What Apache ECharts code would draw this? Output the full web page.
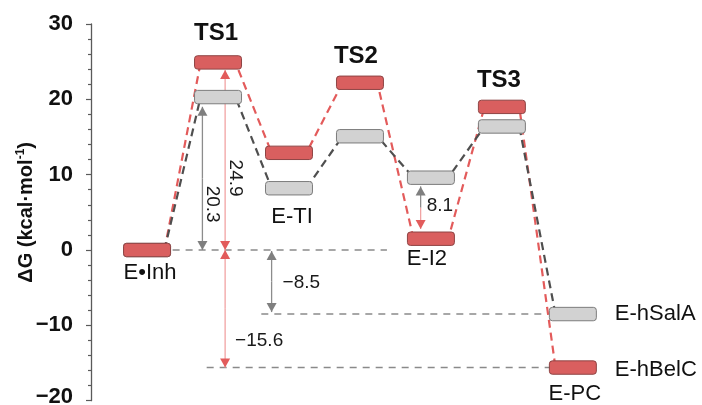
<!DOCTYPE html>
<html>
<head>
<meta charset="utf-8">
<script src="https://cdn.jsdelivr.net/npm/echarts/dist/echarts.min.js"></script>
<style>
  html, body { margin: 0; padding: 0; background: #fff; }
  #chart { width: 702px; height: 405px; }
</style>
</head>
<body>
<div id="chart"></div>
<script>
// Free-energy profile of the two enzyme pathways (kcal/mol, relative to E•Inh)
const stages = ['E•Inh', 'TS1', 'E-TI', 'TS2', 'E-I2', 'TS3', 'E-PC'];
const hBelC = [0, 24.9, 12.9, 22.2, 1.5, 19.0, -15.6];   // red pathway
const hSalA = [0, 20.3, 8.2, 15.1, 9.6, 16.4, -8.5];     // grey pathway
const yTicks = [-20, -10, 0, 10, 20, 30];
const endLabels = ['E-hSalA', 'E-hBelC'];

// ---- drawing constants -------------------------------------------------
const FONT = '"Liberation Sans", Arial, Helvetica, sans-serif';
const BAR_W = 0.662;      // bar width in stage units
const BAR_H = 13.4;       // bar height in px
const EDGE = 0.245;       // where a connector leaves / enters a bar
const RED = { fill: '#d95f5f', stroke: '#8e4444', path: '#e35b5b', arrow: '#f1a3a3', head: '#e25c5c' };
const GREY = { fill: '#d2d2d2', stroke: '#7c7c7c', path: '#4f4f4f', arrow: '#8c8c8c', head: '#7f7f7f' };
const fmt = v => (v < 0 ? '\u2212' + Math.abs(v).toFixed(1) : v.toFixed(1));
const diff = (a, b) => Math.round((a - b) * 10) / 10;

// connector polyline through all bars of one pathway
function pathPoints(vals) {
  const pts = [];
  vals.forEach((v, i) => {
    if (i > 0) pts.push([i - EDGE, v]);
    if (i < vals.length - 1) pts.push([i + EDGE, v]);
  });
  return pts;
}

// dashed reference levels: [y, xStart, xEnd]
const refLevels = [
  [hBelC[0], 0.36, 3.38],
  [hSalA[6], 1.61, 5.64],
  [hBelC[6], 0.84, 5.70]
];

// double-headed arrows: x, from, to, gaps (px), colours, label
const half = BAR_H / 2;
const arrows = [
  { x: 0.78, from: 0, to: hSalA[1], g0: 0, g1: half + 3, c0: GREY, c1: GREY,
    text: fmt(diff(hSalA[1], hSalA[0])), at: 0.32, dx: 10, rot: true },
  { x: 1.10, from: 0, to: hBelC[1], g0: 0, g1: half + 1, c0: RED, c1: RED,
    text: fmt(diff(hBelC[1], hBelC[0])), at: 0.40, dx: 10, rot: true },
  { x: 1.10, from: 0, to: hBelC[6], g0: 0, g1: 0, c0: RED, c1: RED,
    text: fmt(diff(hBelC[6], hBelC[0])), at: 0.77, dx: 10, rot: false },
  { x: 1.755, from: 0, to: hSalA[6], g0: 1, g1: 2, c0: GREY, c1: GREY,
    text: fmt(diff(hSalA[6], hSalA[0])), at: 0.52, dx: 11, rot: false },
  { x: 3.855, from: hSalA[4], to: hBelC[4], g0: half + 2, g1: half + 3, c0: GREY, c1: RED,
    text: fmt(diff(hSalA[4], hBelC[4])), at: 0.45, dx: 6, rot: false }
];

// stage names and transition-state headers: text, stage, anchor value, dx, dy, align, style
const nodeLabels = [
  { text: stages[0], i: 0, v: hBelC[0], dx: 3, dy: 23, align: 'center' },
  { text: stages[2], i: 2, v: hSalA[2], dx: 3, dy: 29, align: 'center' },
  { text: stages[4], i: 4, v: hBelC[4], dx: -4, dy: 20, align: 'center' },
  { text: stages[6], i: 6, v: hBelC[6], dx: 2, dy: 26.5, align: 'center' },
  { text: endLabels[0], i: 6, v: hSalA[6], dx: 42, dy: 0, align: 'left' },
  { text: endLabels[1], i: 6, v: hBelC[6], dx: 42, dy: 2, align: 'left' },
  { text: stages[1], i: 1, v: hBelC[1], dx: -2, dy: -29, align: 'center', bold: true },
  { text: stages[3], i: 3, v: hBelC[3], dx: -4, dy: -26, align: 'center', bold: true },
  { text: stages[5], i: 5, v: hBelC[5], dx: -3, dy: -26, align: 'center', bold: true }
];

function barSeries(vals, c, z) {
  return {
    type: 'custom', z: z, silent: true, clip: false,
    data: vals.map((v, i) => [i, v]),
    renderItem(params, api) {
      const p = api.coord([api.value(0), api.value(1)]);
      const w = api.size([BAR_W, 0])[0];
      return {
        type: 'rect',
        shape: { x: p[0] - w / 2, y: p[1] - BAR_H / 2, width: w, height: BAR_H, r: 3 },
        style: { fill: c.fill, stroke: c.stroke, lineWidth: 1 }
      };
    }
  };
}

function pathSeries(vals, c, z) {
  return {
    type: 'line', z: z, silent: true, showSymbol: false, animation: false,
    data: pathPoints(vals),
    lineStyle: { color: c.path, width: 2.2, type: [8, 5] }
  };
}

function head(x, y, dir, color) {
  // dir = -1 points up, +1 points down; tip at (x, y)
  return {
    type: 'polygon',
    shape: { points: [[x, y], [x - 5, y - dir * 9], [x + 5, y - dir * 9]] },
    style: { fill: color }
  };
}

const tickStyle = { fontFamily: FONT, fontSize: 22, fontWeight: 'bold', color: '#111' };

const option = {
  animation: false,
  backgroundColor: '#ffffff',
  grid: { left: 91, right: 15.6, top: 24, bottom: 4.3, containLabel: false, outerBoundsMode: 'none' },
  xAxis: { type: 'value', min: -0.79, max: 7.6, show: false },
  yAxis: {
    type: 'value', min: yTicks[0], max: yTicks[yTicks.length - 1], interval: 10,
    name: '{b|\u0394G (kcal\u00b7mol}{s|-1}{b|)}',
    nameLocation: 'middle', nameGap: 53, nameMoveOverlap: false,
    nameTextStyle: {
      rich: {
        b: { fontFamily: FONT, fontSize: 20, fontWeight: 'bold', color: '#111', lineHeight: 23 },
        s: { fontFamily: FONT, fontSize: 12, fontWeight: 'bold', color: '#111', lineHeight: 12, verticalAlign: 'top' }
      }
    },
    axisLine: { show: true, onZero: false, lineStyle: { color: '#5a5a5a', width: 1.3 } },
    axisTick: { show: true, length: 5, lineStyle: { color: '#5a5a5a', width: 1.2 } },
    minorTick: { show: true, splitNumber: 5, length: 3, lineStyle: { color: '#5a5a5a', width: 1.2 } },
    splitLine: { show: false },
    axisLabel: {
      margin: 18, ...tickStyle,
      // the bottom tick label is nudged up so it stays inside the frame
      formatter: v => {
        const s = v < 0 ? '\u2212' + Math.abs(v) : String(v);
        return v === yTicks[0] ? '{lo|' + s + '}' : s;
      },
      rich: { lo: { ...tickStyle, padding: [0, 0, 7, 0] } }
    }
  },
  series: [
    // horizontal reference levels
    ...refLevels.map(r => ({
      type: 'line', z: 1, silent: true, showSymbol: false,
      data: [[r[1], r[0]], [r[2], r[0]]],
      lineStyle: { color: '#8a8a8a', width: 1.6, type: [7, 6] }
    })),
    // energy-difference arrows
    {
      type: 'custom', z: 2, silent: true, clip: false,
      data: arrows.map(a => [a.x, a.from, a.to]),
      renderItem(params, api) {
        const a = arrows[params.dataIndex];
        const x = api.coord([api.value(0), api.value(1)])[0];
        const yA = api.coord([0, api.value(1)])[1];
        const yB = api.coord([0, api.value(2)])[1];
        const dir = yB > yA ? 1 : -1;
        const t0 = yA + dir * a.g0;
        const t1 = yB - dir * a.g1;
        const mid = (t0 + t1) / 2;
        const children = [
          { type: 'line', shape: { x1: x, y1: t0, x2: x, y2: mid }, style: { stroke: a.c0.arrow, lineWidth: 1.3 } },
          { type: 'line', shape: { x1: x, y1: mid, x2: x, y2: t1 }, style: { stroke: a.c1.arrow, lineWidth: 1.3 } },
          head(x, t0, -dir, a.c0.head),
          head(x, t1, dir, a.c1.head)
        ];
        const ly = t0 + (t1 - t0) * a.at;
        children.push({
          type: 'text',
          x: x + a.dx, y: ly,
          rotation: a.rot ? -Math.PI / 2 : 0,
          style: {
            text: a.text, fontFamily: FONT, fontSize: 19, fill: '#1a1a1a',
            align: a.rot ? 'center' : 'left', verticalAlign: 'middle'
          }
        });
        return { type: 'group', children: children };
      }
    },
    pathSeries(hBelC, RED, 3),
    pathSeries(hSalA, GREY, 4),
    barSeries(hSalA, GREY, 5),
    barSeries(hBelC, RED, 6),
    // stage labels
    {
      type: 'custom', z: 7, silent: true, clip: false,
      data: nodeLabels.map(l => [l.i, l.v]),
      renderItem(params, api) {
        const l = nodeLabels[params.dataIndex];
        const p = api.coord([api.value(0), api.value(1)]);
        return {
          type: 'text', x: p[0] + l.dx, y: p[1] + l.dy,
          style: {
            text: l.text, fontFamily: FONT,
            fontSize: l.bold ? 24 : 22, fontWeight: l.bold ? 'bold' : 'normal',
            fill: '#111', align: l.align, verticalAlign: 'middle'
          }
        };
      }
    }
  ]
};

const chart = echarts.init(document.getElementById('chart'), null, { renderer: 'canvas' });
chart.setOption(option);
</script>
</body>
</html>
